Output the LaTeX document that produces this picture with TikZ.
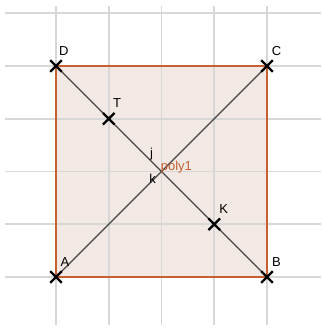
\documentclass[tikz,border=0pt]{standalone}
\usepackage{fontspec}
\setmainfont{Liberation Sans}
\usetikzlibrary{positioning,calc}
\definecolor{polyfill}{RGB}{243,233,228}
\definecolor{polyedge}{RGB}{196,96,50}
\definecolor{gridgray}{RGB}{215,215,215}
\definecolor{segdark}{RGB}{70,70,70}
\begin{document}
\begin{tikzpicture}[
  x=1cm,y=1cm,
  gridln/.style={gridgray,line width=0.9pt},
  edge/.style={polyedge,line width=0.8pt},
  seg/.style={segdark,line width=0.6pt},
  mk/.style={black,line width=1.3pt},
  lb/.style={font=\fontsize{7}{8}\selectfont,inner sep=0pt,anchor=center},
  plb/.style={font=\fontsize{7}{8}\selectfont,inner sep=0pt,polyedge}
]
\useasboundingbox (-1.062,-0.986) rectangle (5.024,5.251);

%% points
\coordinate (A) at (0,0);
\coordinate (B) at (4,0);
\coordinate (C) at (4,4);
\coordinate (D) at (0,4);
\coordinate (T) at (1,3);
\coordinate (K) at (3,1);
\coordinate (M) at (2,2);

% polygon fill
\fill[polyfill] (A) -- (B) -- (C) -- (D) -- cycle;

% grid
\foreach \x in {0,...,4}
  \draw[gridln] (\x,-0.91) -- (\x,5.13);
\foreach \y in {0,...,5}
  \draw[gridln] (-0.97,\y) -- (5.02,\y);

% polygon edges
\draw[edge] (A) -- (B) -- (C) -- (D) -- cycle;

% diagonals j, k
\draw[seg] (D) -- (B);
\draw[seg] (A) -- (C);

% crosses
\foreach \p in {A,B,C,D,T,K}
  \draw[mk] (\p) +(-0.11,-0.11) -- +(0.11,0.11)
            (\p) +(-0.11,0.11) -- +(0.11,-0.11);

% point labels
\node[lb] (lA) at ($(A)+(0.17,0.29)$) {A};
\node[lb] (lB) at ($(B)+(0.18,0.29)$) {B};
\node[lb] (lC) at ($(C)+(0.18,0.29)$) {C};
\node[lb] (lD) at ($(D)+(0.15,0.29)$) {D};
\node[lb] (lT) at ($(T)+(0.16,0.29)$) {T};
\node[lb] (lK) at ($(K)+(0.18,0.29)$) {K};

% object labels
\node[lb] (lj) at ($(M)+(-0.19,0.32)$) {j};
\node[lb] (lk) at ($(M)+(-0.17,-0.13)$) {k};
\node[plb,anchor=west] (lpoly) at ($(M)+(-0.02,0.08)$) {poly1};

\end{tikzpicture}
\end{document}
